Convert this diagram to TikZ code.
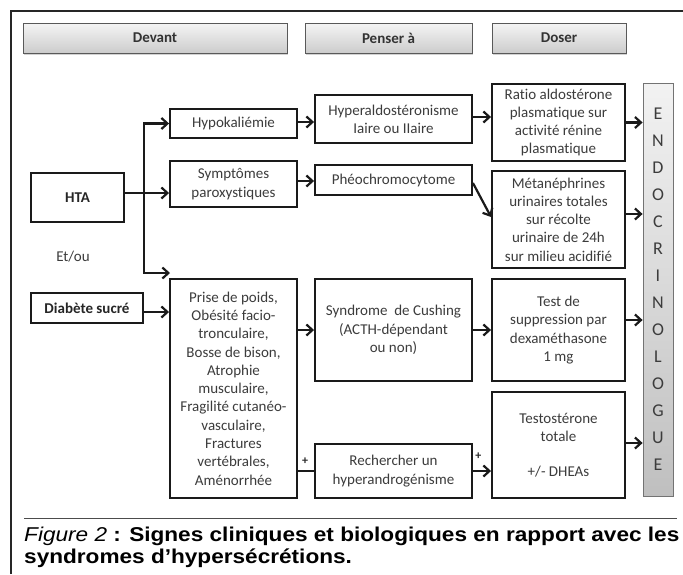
\documentclass[tikz,border=0pt]{standalone}
\usepackage{fontspec}
\setmainfont{Carlito}[Ligatures={NoCommon}]
\newfontfamily\capfont{Liberation Sans}[FakeStretch=1.13]
\usetikzlibrary{arrows.meta,shadows}
\definecolor{txt}{HTML}{3C3C3C}
\definecolor{edge}{HTML}{1A1A1A}
\begin{document}
\begin{tikzpicture}[x=1pt,y=-1pt,
  box/.style={draw=edge, line width=1.9pt, fill=white, text=txt, align=center,
    font=\fontsize{15}{18.3}\selectfont, inner sep=2pt},
  hdr/.style={draw=black!65, line width=0.8pt, top color=black!4, bottom color=black!20,
    drop shadow={opacity=0.35, shadow xshift=1.2pt, shadow yshift=-1.5pt},
    font=\fontsize{15}{18}\selectfont\bfseries, text=black!80, minimum height=30pt},
  endo/.style={draw=black!55, line width=0.8pt, top color=black!5, bottom color=black!25,
    text=txt, align=center, font=\fontsize{18}{27}\selectfont},
  arr/.style={draw=edge, line width=2.2pt, -{Straight Barb[length=6pt,width=11pt]}, line join=miter},
  ln/.style={draw=edge, line width=2.2pt, line join=miter},
  plus/.style={font=\fontsize{12}{12}\selectfont\bfseries, text=black!85, inner sep=0pt},
  captext/.style={anchor=base west, inner sep=0pt, text=black,
    font=\capfont\fontsize{20}{22}\selectfont\bfseries}]
\useasboundingbox (0,0) rectangle (683,574);
\fill[white] (0,0) rectangle (683,574);
% frame
\draw[line width=2pt, black!85] (11,574) -- (11,11) -- (683,11);
\draw[line width=0.9pt, black!70] (24,518) -- (677,518);
% headers
\node[hdr, minimum width=264pt] (hdev) at (155,38) {Devant};
\node[hdr, minimum width=167pt] (hpen) at (388.5,38) {Penser à};
\node[hdr, minimum width=134pt] (hdos) at (559,38) {Doser};
% left column
\node[box, minimum width=93pt, minimum height=49pt, font=\fontsize{15}{18}\selectfont\bfseries, text=black!85] (hta) at (77.5,197.5) {HTA};
\node[box, minimum width=112pt, minimum height=30pt, font=\fontsize{15}{18}\selectfont\bfseries, text=black!85] (diab) at (87,308) {Diabète sucré};
\node[text=txt, font=\fontsize{15}{18}\selectfont] (etou) at (73,257) {Et/ou};
% second column
\node[box, minimum width=127pt, minimum height=29pt] (hypo) at (233.5,123.5) {Hypokaliémie};
\node[box, minimum width=127pt, minimum height=46pt] (symp) at (233.5,184) {Symptômes\\paroxystiques};
\node[box, minimum width=127pt, minimum height=219pt] (prise) at (233.5,388.5) {Prise de poids,\\Obésité facio-\\tronculaire,\\Bosse de bison,\\Atrophie\\musculaire,\\Fragilité cutanéo-\\vasculaire,\\Fractures\\vertébrales,\\Aménorrhée};
% third column
\node[box, minimum width=157pt, minimum height=48pt] (hyper) at (393.5,119) {Hyperaldostéronisme\\Iaire ou IIaire};
\node[box, minimum width=157pt, minimum height=30pt] (pheo) at (393.5,180) {Phéochromocytome};
\node[box, minimum width=157pt, minimum height=102pt] (cush) at (393.5,330) {Syndrome\ \ de Cushing\\(ACTH-dépendant\\ou non)};
\node[box, minimum width=157pt, minimum height=54pt] (rech) at (393.5,471) {Rechercher un\\hyperandrogénisme};
% fourth column
\node[box, minimum width=133pt, minimum height=77pt] (ratio) at (558.5,122.5) {Ratio aldostérone\\plasmatique sur\\activité rénine\\plasmatique};
\node[box, minimum width=133pt, minimum height=97pt] (meta) at (558.5,219.5) {Métanéphrines\\urinaires totales\\sur récolte\\urinaire de 24h\\sur milieu acidifié};
\node[box, minimum width=133pt, minimum height=102pt] (test) at (558.5,330) {Test de\\suppression par\\dexaméthasone\\1 mg};
\node[box, minimum width=133pt, minimum height=106pt] (testo) at (558.5,445) {Testostérone\\totale\\[16pt]+/- DHEAs};
% endocrinologue
\node[endo, minimum width=30pt, minimum height=413pt] (endo) at (658,289.5) {E\\N\\D\\O\\C\\R\\I\\N\\O\\L\\O\\G\\U\\E};
% connectors
\coordinate (j) at (144,193);
\coordinate (ttop) at (144,123.5);
\coordinate (tbot) at (144,273);
\coordinate (tend) at (170,273);
\draw[ln] (hta.east |- j) -- (j);
\draw[arr] (j) -- (symp.west |- j);
\draw[arr] (tbot) -- (ttop) -- (hypo.west);
\draw[arr] (ttop) -- (tbot) -- (tend);
\draw[arr] (diab.east |- 0,312) -- (prise.west |- 0,312);
\draw[arr] (hypo.east |- 0,122) -- (hyper.west |- 0,122);
\draw[arr] (hyper.east |- 0,117) -- (ratio.west |- 0,117);
\draw[arr] (ratio.east) -- (endo.west |- ratio.east);
\draw[arr] (symp.east |- 0,181) -- (pheo.west |- 0,181);
\draw[arr] (pheo.east |- 0,183) -- (meta.west |- 0,217);
\draw[arr] (meta.east |- 0,214) -- (endo.west |- 0,214);
\draw[arr] (prise.east |- cush.west) -- (cush.west);
\draw[arr] (cush.east) -- (test.west);
\draw[arr] (test.east |- 0,320) -- (endo.west |- 0,320);
\draw[ln] (prise.east |- rech.west) -- (rech.west) node[plus, pos=0.45, above=5pt] {+};
\draw[arr] (rech.east) -- (testo.west |- rech.east) node[plus, pos=0.3, above=10pt] {+};
\draw[arr] (testo.east |- 0,443) -- (endo.west |- 0,443);
% caption
\node[captext] (cap1) at (24,541) {{\mdseries\itshape Figure 2} : Signes cliniques et biologiques en rapport avec les};
\node[captext] (cap2) at (24,563) {syndromes d’hypersécrétions.};
\end{tikzpicture}
\end{document}
